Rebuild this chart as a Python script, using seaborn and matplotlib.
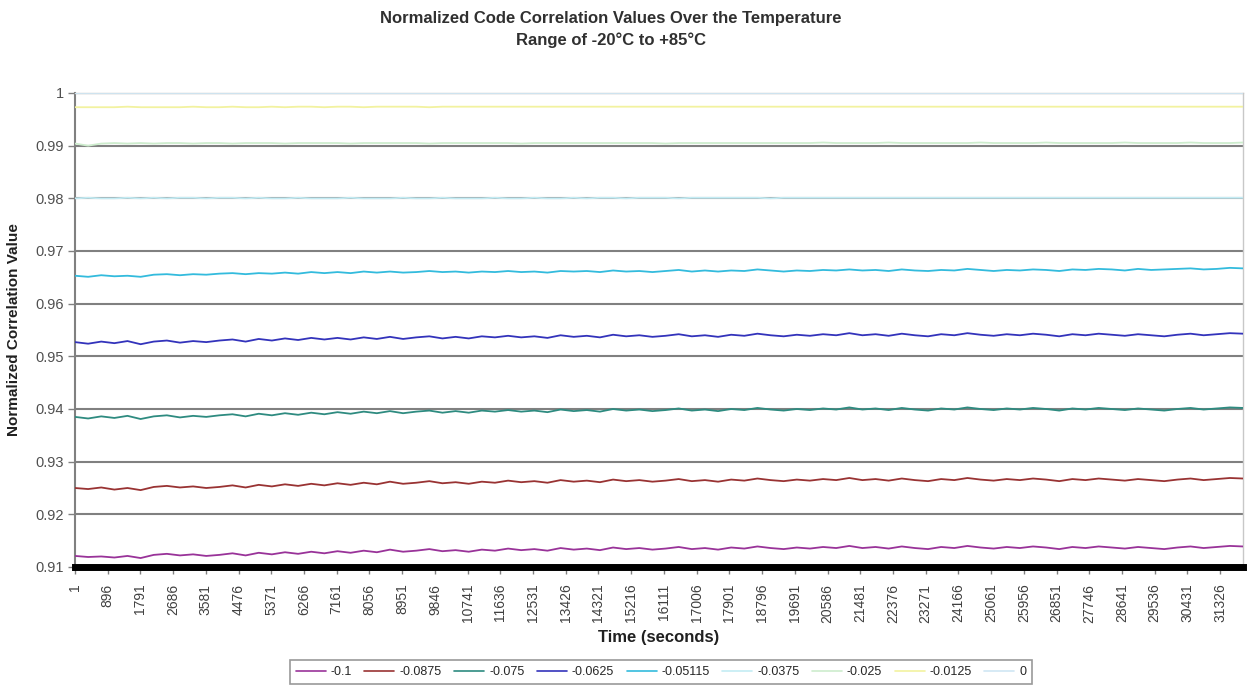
import numpy as np
import pandas as pd
import matplotlib
matplotlib.use("Agg")
import matplotlib.pyplot as plt
import seaborn as sns
from matplotlib.ticker import FuncFormatter

# ---------------- data ----------------
series_names = ["-0.1", "-0.0875", "-0.075", "-0.0625", "-0.05115",
                "-0.0375", "-0.025", "-0.0125", "0"]

# sampling times (seconds)
time_s = np.arange(90) * 359 + 1

s_m0100 = [0.9121,0.9119,0.9120,0.9118,0.9121,0.9117,0.9123,0.9125,0.9122,0.9124,
           0.9121,0.9123,0.9126,0.9122,0.9127,0.9124,0.9128,0.9125,0.9129,0.9126,
           0.9130,0.9127,0.9131,0.9128,0.9133,0.9129,0.9131,0.9134,0.9130,0.9132,
           0.9129,0.9133,0.9131,0.9135,0.9132,0.9134,0.9131,0.9136,0.9133,0.9135,
           0.9132,0.9137,0.9134,0.9136,0.9133,0.9135,0.9138,0.9134,0.9136,0.9133,
           0.9137,0.9135,0.9139,0.9136,0.9134,0.9137,0.9135,0.9138,0.9136,0.9140,
           0.9136,0.9138,0.9135,0.9139,0.9136,0.9134,0.9138,0.9136,0.9140,0.9137,
           0.9135,0.9138,0.9136,0.9139,0.9137,0.9134,0.9138,0.9136,0.9139,0.9137,
           0.9135,0.9138,0.9136,0.9134,0.9137,0.9139,0.9136,0.9138,0.9140,0.9139]

s_m0875 = [0.9250,0.9248,0.9251,0.9247,0.9250,0.9246,0.9252,0.9254,0.9251,0.9253,
           0.9250,0.9252,0.9255,0.9251,0.9256,0.9253,0.9257,0.9254,0.9258,0.9255,
           0.9259,0.9256,0.9260,0.9257,0.9262,0.9258,0.9260,0.9263,0.9259,0.9261,
           0.9258,0.9262,0.9260,0.9264,0.9261,0.9263,0.9260,0.9265,0.9262,0.9264,
           0.9261,0.9266,0.9263,0.9265,0.9262,0.9264,0.9267,0.9263,0.9265,0.9262,
           0.9266,0.9264,0.9268,0.9265,0.9263,0.9266,0.9264,0.9267,0.9265,0.9269,
           0.9265,0.9267,0.9264,0.9268,0.9265,0.9263,0.9267,0.9265,0.9269,0.9266,
           0.9264,0.9267,0.9265,0.9268,0.9266,0.9263,0.9267,0.9265,0.9268,0.9266,
           0.9264,0.9267,0.9265,0.9263,0.9266,0.9268,0.9265,0.9267,0.9269,0.9268]

s_m0750 = [0.9385,0.9382,0.9386,0.9383,0.9387,0.9381,0.9386,0.9388,0.9384,0.9387,
           0.9385,0.9388,0.9390,0.9386,0.9391,0.9388,0.9392,0.9389,0.9393,0.9390,
           0.9394,0.9391,0.9395,0.9392,0.9396,0.9392,0.9395,0.9397,0.9393,0.9396,
           0.9393,0.9397,0.9395,0.9398,0.9395,0.9397,0.9394,0.9399,0.9396,0.9398,
           0.9395,0.9400,0.9397,0.9399,0.9396,0.9398,0.9401,0.9397,0.9399,0.9396,
           0.9400,0.9398,0.9402,0.9399,0.9397,0.9400,0.9398,0.9401,0.9399,0.9403,
           0.9399,0.9401,0.9398,0.9402,0.9399,0.9397,0.9401,0.9399,0.9403,0.9400,
           0.9398,0.9401,0.9399,0.9402,0.9400,0.9397,0.9401,0.9399,0.9402,0.9400,
           0.9398,0.9401,0.9399,0.9397,0.9400,0.9402,0.9399,0.9401,0.9403,0.9402]

s_m0625 = [0.9527,0.9524,0.9528,0.9525,0.9529,0.9523,0.9528,0.9530,0.9526,0.9529,
           0.9527,0.9530,0.9532,0.9528,0.9533,0.9530,0.9534,0.9531,0.9535,0.9532,
           0.9535,0.9532,0.9536,0.9533,0.9537,0.9533,0.9536,0.9538,0.9534,0.9537,
           0.9534,0.9538,0.9536,0.9539,0.9536,0.9538,0.9535,0.9540,0.9537,0.9539,
           0.9536,0.9541,0.9538,0.9540,0.9537,0.9539,0.9542,0.9538,0.9540,0.9537,
           0.9541,0.9539,0.9543,0.9540,0.9538,0.9541,0.9539,0.9542,0.9540,0.9544,
           0.9540,0.9542,0.9539,0.9543,0.9540,0.9538,0.9542,0.9540,0.9544,0.9541,
           0.9539,0.9542,0.9540,0.9543,0.9541,0.9538,0.9542,0.9540,0.9543,0.9541,
           0.9539,0.9542,0.9540,0.9538,0.9541,0.9543,0.9540,0.9542,0.9544,0.9543]

s_m05115 = [0.9653,0.9651,0.9654,0.9652,0.9653,0.9651,0.9655,0.9656,0.9654,0.9656,
            0.9655,0.9657,0.9658,0.9656,0.9658,0.9657,0.9659,0.9657,0.9660,0.9658,
            0.9660,0.9658,0.9661,0.9659,0.9661,0.9659,0.9660,0.9662,0.9660,0.9661,
            0.9659,0.9661,0.9660,0.9662,0.9660,0.9661,0.9659,0.9662,0.9661,0.9662,
            0.9660,0.9663,0.9661,0.9662,0.9660,0.9662,0.9664,0.9661,0.9663,0.9661,
            0.9663,0.9662,0.9665,0.9663,0.9661,0.9663,0.9662,0.9664,0.9663,0.9665,
            0.9663,0.9664,0.9662,0.9665,0.9663,0.9662,0.9664,0.9663,0.9666,0.9664,
            0.9662,0.9664,0.9663,0.9665,0.9664,0.9662,0.9665,0.9664,0.9666,0.9665,
            0.9663,0.9666,0.9664,0.9665,0.9666,0.9667,0.9665,0.9666,0.9668,0.9667]

s_m0375 = [0.9800,0.9801,0.9800,0.9800,0.9801,0.9800,0.9801,0.9800,0.9801,0.9801,
           0.9800,0.9801,0.9801,0.9800,0.9801,0.9800,0.9800,0.9801,0.9800,0.9800,
           0.9800,0.9801,0.9800,0.9800,0.9800,0.9801,0.9800,0.9800,0.9801,0.9800,
           0.9800,0.9800,0.9801,0.9800,0.9800,0.9801,0.9800,0.9800,0.9801,0.9800,
           0.9801,0.9801,0.9800,0.9801,0.9801,0.9801,0.9800,0.9801,0.9801,0.9801,
           0.9801,0.9801,0.9801,0.9800,0.9801,0.9801,0.9801,0.9801,0.9801,0.9801,
           0.9801,0.9801,0.9801,0.9801,0.9801,0.9801,0.9801,0.9801,0.9801,0.9801,
           0.9801,0.9801,0.9801,0.9801,0.9801,0.9801,0.9801,0.9801,0.9801,0.9801,
           0.9801,0.9801,0.9801,0.9801,0.9801,0.9801,0.9801,0.9801,0.9801,0.9801]

s_m0250 = [0.9904,0.9900,0.9904,0.9905,0.9904,0.9905,0.9904,0.9905,0.9905,0.9904,
           0.9905,0.9905,0.9904,0.9905,0.9905,0.9905,0.9904,0.9905,0.9905,0.9905,
           0.9905,0.9904,0.9905,0.9905,0.9905,0.9905,0.9905,0.9904,0.9905,0.9905,
           0.9905,0.9905,0.9905,0.9905,0.9904,0.9905,0.9905,0.9905,0.9905,0.9905,
           0.9905,0.9905,0.9905,0.9905,0.9905,0.9904,0.9905,0.9905,0.9905,0.9905,
           0.9905,0.9905,0.9905,0.9905,0.9905,0.9905,0.9905,0.9906,0.9905,0.9905,
           0.9905,0.9905,0.9906,0.9905,0.9905,0.9905,0.9905,0.9905,0.9905,0.9906,
           0.9905,0.9905,0.9905,0.9905,0.9906,0.9905,0.9905,0.9905,0.9905,0.9905,
           0.9906,0.9905,0.9905,0.9905,0.9905,0.9906,0.9905,0.9905,0.9905,0.9906]

s_m0125 = [0.9973,0.9973,0.9973,0.9973,0.9974,0.9973,0.9973,0.9973,0.9973,0.9974,
           0.9973,0.9973,0.9974,0.9973,0.9973,0.9974,0.9973,0.9974,0.9974,0.9973,
           0.9974,0.9974,0.9973,0.9974,0.9974,0.9974,0.9974,0.9973,0.9974,0.9974,
           0.9974,0.9974,0.9974,0.9974,0.9974,0.9974,0.9974,0.9974,0.9974,0.9974,
           0.9974,0.9974,0.9974,0.9974,0.9974,0.9974,0.9974,0.9974,0.9974,0.9974,
           0.9974,0.9974,0.9974,0.9974,0.9974,0.9974,0.9974,0.9974,0.9974,0.9974,
           0.9974,0.9974,0.9974,0.9974,0.9974,0.9974,0.9974,0.9974,0.9974,0.9974,
           0.9974,0.9974,0.9974,0.9974,0.9974,0.9974,0.9974,0.9974,0.9974,0.9974,
           0.9974,0.9974,0.9974,0.9974,0.9974,0.9974,0.9974,0.9974,0.9974,0.9974]

s_0 = [0.99995,0.99995,0.99995,0.99995,0.99995,0.99995,0.99995,0.99995,0.99995,0.99995,
       0.99995,0.99995,0.99995,0.99995,0.99995,0.99995,0.99995,0.99995,0.99995,0.99995,
       0.99995,0.99995,0.99995,0.99995,0.99995,0.99995,0.99995,0.99995,0.99995,0.99995,
       0.99995,0.99995,0.99995,0.99995,0.99995,0.99995,0.99995,0.99995,0.99995,0.99995,
       0.99995,0.99995,0.99995,0.99995,0.99995,0.99995,0.99995,0.99995,0.99995,0.99995,
       0.99995,0.99995,0.99995,0.99995,0.99995,0.99995,0.99995,0.99995,0.99995,0.99995,
       0.99995,0.99995,0.99995,0.99995,0.99995,0.99995,0.99995,0.99995,0.99995,0.99995,
       0.99995,0.99995,0.99995,0.99995,0.99995,0.99995,0.99995,0.99995,0.99995,0.99995,
       0.99995,0.99995,0.99995,0.99995,0.99995,0.99995,0.99995,0.99995,0.99995,0.99995]

series_values = [s_m0100, s_m0875, s_m0750, s_m0625, s_m05115,
                 s_m0375, s_m0250, s_m0125, s_0]

x_tick_labels = ["1", "896", "1791", "2686", "3581", "4476", "5371", "6266", "7161",
                 "8056", "8951", "9846", "10741", "11636", "12531", "13426", "14321",
                 "15216", "16111", "17006", "17901", "18796", "19691", "20586", "21481",
                 "22376", "23271", "24166", "25061", "25956", "26851", "27746", "28641",
                 "29536", "30431", "31326"]
y_ticks = [0.91, 0.92, 0.93, 0.94, 0.95, 0.96, 0.97, 0.98, 0.99, 1.0]

colors = ["#993399", "#993333", "#2e8b80", "#3333bb", "#33bbdd",
          "#c4ecf4", "#cdeccd", "#f2f2a0", "#cfe6f4"]

# ---------------- figure ----------------
sns.set_theme(style="white")
plt.rcParams['font.family'] = ['Liberation Sans', 'DejaVu Sans']

rows = []
for name, vals in zip(series_names, series_values):
    for t, v in zip(time_s, vals):
        rows.append((t, v, name))
df = pd.DataFrame(rows, columns=["time", "value", "series"])

fig = plt.figure(figsize=(12.47, 6.89), dpi=100)
ax = fig.add_axes([75/1247, 1-567/689, (1243-75)/1247, (567-93)/689])

sns.lineplot(data=df, x="time", y="value", hue="series", hue_order=series_names,
             palette=dict(zip(series_names, colors)), linewidth=1.3, ax=ax,
             legend=False, zorder=3)

ax.set_ylim(0.91, 1.0)
ax.set_xlim(1, 31952)
ax.set_yticks(y_ticks)
ax.yaxis.set_major_formatter(FuncFormatter(lambda v, p: f"{v:.2f}".rstrip('0').rstrip('.')))
tick_pos = [int(s) for s in x_tick_labels]
ax.set_xticks(tick_pos)
ax.set_xticklabels(x_tick_labels, rotation=90, fontsize=10, color="#404040")
ax.tick_params(axis='y', labelsize=10.5, labelcolor="#505050", length=5, width=1,
               color="#808080", left=True, direction='out', pad=3)
ax.tick_params(axis='x', length=5, width=1, color="#808080", bottom=True,
               direction='out', pad=7)

ax.grid(axis='y', color="#808080", linewidth=1.5, zorder=1)
ax.grid(axis='x', visible=False)
ax.set_axisbelow(True)

for s in ["top", "right"]:
    ax.spines[s].set_color("#c8c8c8")
    ax.spines[s].set_linewidth(1)
ax.spines["left"].set_color("#808080")
ax.spines["left"].set_linewidth(1.5)
ax.spines["bottom"].set_color("black")
ax.spines["bottom"].set_linewidth(5)

ax.set_xlabel("Time (seconds)", fontsize=12, fontweight='bold', labelpad=5, color="#202020")
ax.set_ylabel("Normalized Correlation Value", fontsize=11, fontweight='bold', labelpad=10,
              color="#202020")

fig.text(611/1247, 1-18/689, "Normalized Code Correlation Values Over the Temperature",
         ha='center', va='center', fontsize=12, fontweight='bold', color="#303030")
fig.text(611/1247, 1-40/689, "Range of -20°C to +85°C",
         ha='center', va='center', fontsize=12, fontweight='bold', color="#303030")

handles = ax.get_lines()[:len(series_names)]
leg = fig.legend(handles, series_names, loc='center', ncol=9,
                 bbox_to_anchor=(661/1247, 1-672/689), fontsize=9,
                 frameon=True, fancybox=False, edgecolor="#808080",
                 handlelength=2.4, handletextpad=0.4, columnspacing=1.0,
                 borderpad=0.45)
leg.get_frame().set_linewidth(1.2)
for l in leg.get_lines():
    l.set_linewidth(1.2)

fig.savefig("out.png", dpi=100, facecolor="white")
